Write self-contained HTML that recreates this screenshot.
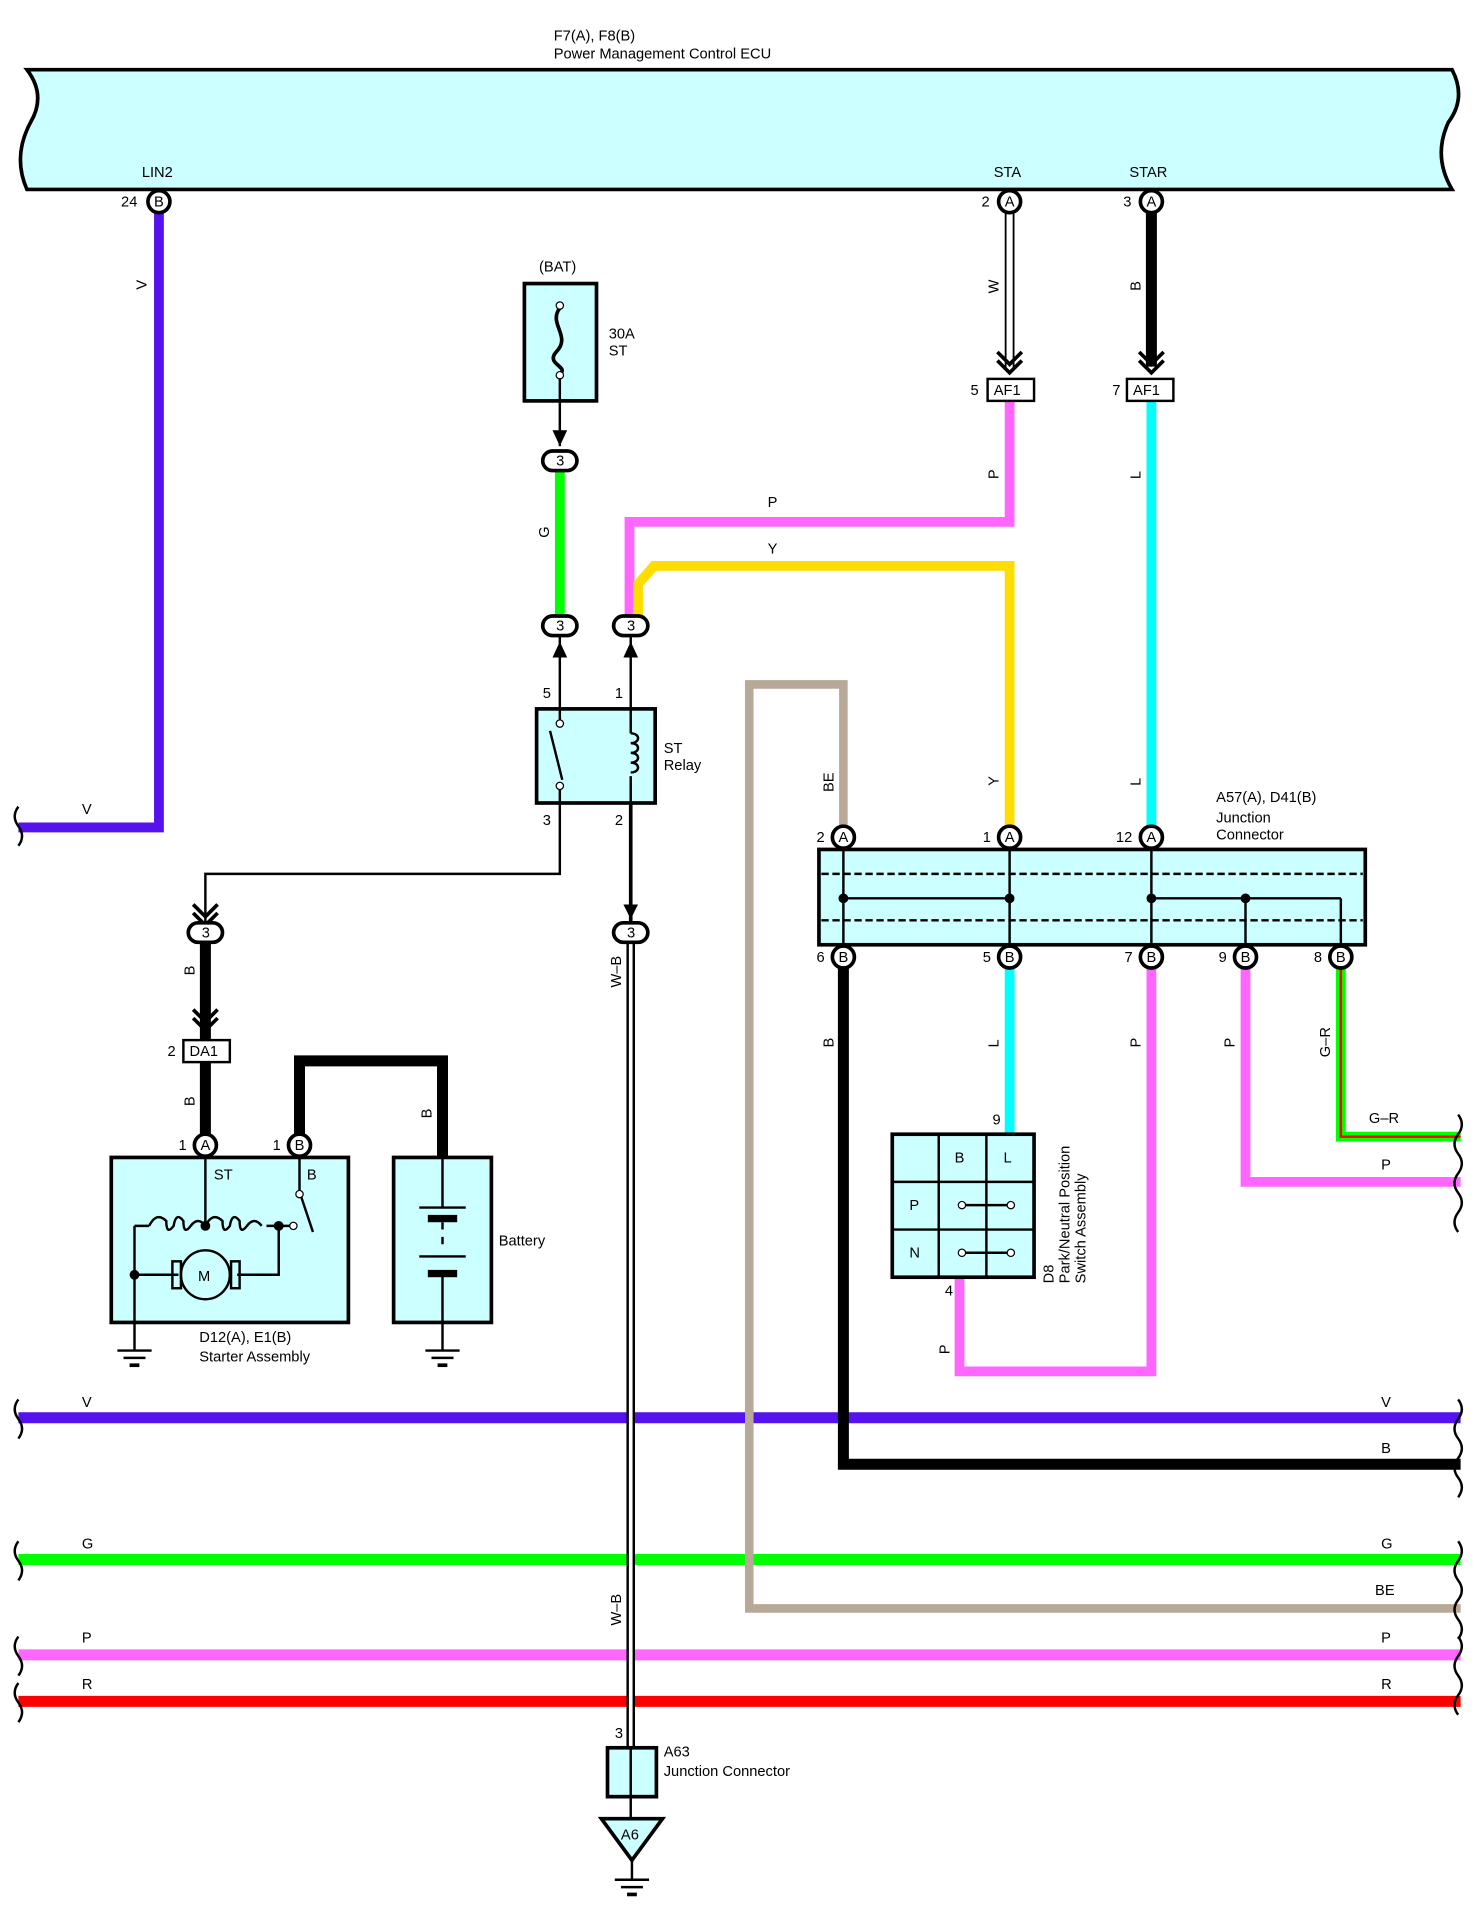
<!DOCTYPE html>
<html><head><meta charset="utf-8"><style>html,body{margin:0;padding:0;background:#fff}svg{display:block}text{font-family:"Liberation Sans",sans-serif;font-size:12px;fill:#000}</style></head>
<body>
<svg width="1479" height="1914" viewBox="0 0 1210 1566" xmlns="http://www.w3.org/2000/svg">
<defs>
<g id="pin"><circle r="9" fill="#fff" stroke="#000" stroke-width="3"/></g>
<g id="con"><rect x="-14" y="-8" width="28" height="16" rx="8" fill="#fff" stroke="#000" stroke-width="3"/></g>
<g id="gnd"><line x1="-14" y1="0" x2="14" y2="0" stroke="#000" stroke-width="2"/><line x1="-9" y1="6" x2="9" y2="6" stroke="#000" stroke-width="2"/><line x1="-4" y1="12" x2="4" y2="12" stroke="#000" stroke-width="3"/></g>
</defs>
<!-- ECU -->
<path d="M22 57 H1188 Q1200 80 1185 100 Q1172 128 1188 155 H22 Q10 128 25 100 Q38 78 22 57 Z" fill="#ccffff" stroke="#000" stroke-width="3"/>
<text x="453" y="33">F7(A), F8(B)</text><text x="453" y="48">Power Management Control ECU</text>
<text x="116" y="145">LIN2</text><text x="813" y="145">STA</text><text x="924" y="145">STAR</text>

<!-- bus lines -->
<g fill="none" stroke-linecap="butt">
<path d="M15 1160 H1195" stroke="#5511ee" stroke-width="9"/>
<path d="M690 790 V1198 H1195" stroke="#000" stroke-width="9"/>
<path d="M15 1276 H1195" stroke="#00ff00" stroke-width="9"/>
<path d="M690 680 V560 H613 V1316 H1195" stroke="#b8a898" stroke-width="7"/>
<path d="M15 1354 H1195" stroke="#ff66ff" stroke-width="9"/>
<path d="M15 1392 H1195" stroke="#ff0000" stroke-width="9"/>
<!-- LIN2 -->
<path d="M130 170 V677 H15" stroke="#5511ee" stroke-width="8"/>
<!-- STA white -->
<path d="M826 172 V300" stroke="#000" stroke-width="8"/><path d="M826 172 V300" stroke="#fff" stroke-width="5"/>
<path d="M942 172 V300" stroke="#000" stroke-width="9"/>
<path d="M826 328 V427 H515 V505" stroke="#ff66ff" stroke-width="8"/>
<path d="M942 328 V680" stroke="#00ffff" stroke-width="8"/>
<path d="M826 680 V463 H535 L522 478 V505" stroke="#ffdd00" stroke-width="8"/>
<path d="M458 385 V505" stroke="#00ff00" stroke-width="8"/>
<path d="M826 790 V928" stroke="#00ffff" stroke-width="8"/>
<path d="M942 790 V1122 H785 V1045" stroke="#ff66ff" stroke-width="8"/>
<path d="M1019 790 V967 H1195" stroke="#ff66ff" stroke-width="8"/>
<path d="M1097 790 V930 H1195" stroke="#00ff00" stroke-width="8"/>
<path d="M1097 790 V930 H1195" stroke="#ff0000" stroke-width="2"/>
<!-- relay wires -->
<path d="M458 328 V365 M458 520 V580 M516 520 V580" stroke="#000" stroke-width="2"/>
<path d="M458 657 V715 H168 V755" stroke="#000" stroke-width="2"/>
<path d="M516 657 V755" stroke="#000" stroke-width="3"/>
<path d="M168 770 V851 M168 869 V928" stroke="#000" stroke-width="9"/>
<path d="M245 928 V868 H362 V947" stroke="#000" stroke-width="9"/>
<path d="M516 770 V1430" stroke="#000" stroke-width="7"/><path d="M516 770 V1430" stroke="#fff" stroke-width="3"/>
</g>
<!-- arrowheads -->
<g fill="none" stroke="#000" stroke-width="3">
<path d="M816 288 L826 298 L836 288 M816 295 L826 305 L836 295"/>
<path d="M932 288 L942 298 L952 288 M932 295 L942 305 L952 295"/>
<path d="M158 740 L168 750 L178 740 M158 747 L168 757 L178 747"/>
<path d="M158 826 L168 836 L178 826 M158 833 L168 843 L178 833"/>
</g>
<g fill="#000"><path d="M452 352 L458 365 L464 352 Z"/><path d="M452 538 L458 525 L464 538 Z"/><path d="M510 538 L516 525 L522 538 Z"/><path d="M510 740 L516 752 L522 740Z"/></g>

<!-- pins -->
<g font-size="10">
<use href="#pin" x="130" y="165"/><text x="126" y="169" font-size="10">B</text><text x="99" y="169">24</text>
<use href="#pin" x="826" y="165"/><text x="822" y="169" font-size="10">A</text><text x="803" y="169">2</text>
<use href="#pin" x="942" y="165"/><text x="938" y="169" font-size="10">A</text><text x="919" y="169">3</text>
<use href="#pin" x="690" y="685"/><text x="686" y="689" font-size="10">A</text><text x="668" y="689">2</text>
<use href="#pin" x="826" y="685"/><text x="822" y="689" font-size="10">A</text><text x="804" y="689">1</text>
<use href="#pin" x="942" y="685"/><text x="938" y="689" font-size="10">A</text><text x="913" y="689">12</text>
<use href="#pin" x="690" y="783"/><text x="686" y="787" font-size="10">B</text><text x="668" y="787">6</text>
<use href="#pin" x="826" y="783"/><text x="822" y="787" font-size="10">B</text><text x="804" y="787">5</text>
<use href="#pin" x="942" y="783"/><text x="938" y="787" font-size="10">B</text><text x="920" y="787">7</text>
<use href="#pin" x="1019" y="783"/><text x="1015" y="787" font-size="10">B</text><text x="997" y="787">9</text>
<use href="#pin" x="1097" y="783"/><text x="1093" y="787" font-size="10">B</text><text x="1075" y="787">8</text>
<use href="#pin" x="168" y="937"/><text x="164" y="941" font-size="10">A</text><text x="146" y="941">1</text>
<use href="#pin" x="245" y="937"/><text x="241" y="941" font-size="10">B</text><text x="223" y="941">1</text>
</g>
<g font-size="10">
<use href="#con" x="458" y="377"/><text x="455" y="381">3</text>
<use href="#con" x="458" y="512"/><text x="455" y="516">3</text>
<use href="#con" x="516" y="512"/><text x="513" y="516">3</text>
<use href="#con" x="168" y="763"/><text x="165" y="767">3</text>
<use href="#con" x="516" y="763"/><text x="513" y="767">3</text>
</g>
<!-- AF1 / DA1 boxes -->
<rect x="808" y="310" width="38" height="18" fill="#fff" stroke="#000" stroke-width="2"/><text x="813" y="323">AF1</text><text x="794" y="323">5</text>
<rect x="922" y="310" width="38" height="18" fill="#fff" stroke="#000" stroke-width="2"/><text x="927" y="323">AF1</text><text x="910" y="323">7</text>
<rect x="150" y="851" width="38" height="18" fill="#fff" stroke="#000" stroke-width="2"/><text x="155" y="864">DA1</text><text x="137" y="864">2</text>

<!-- fuse -->
<rect x="429" y="232" width="59" height="96" fill="#ccffff" stroke="#000" stroke-width="3"/>
<path d="M458 252 C448 265 468 275 455 288 C446 298 466 300 458 306" fill="none" stroke="#000" stroke-width="3"/>
<circle cx="458" cy="250" r="3" fill="#fff" stroke="#000"/><circle cx="458" cy="307" r="3" fill="#fff" stroke="#000"/>
<line x1="458" y1="310" x2="458" y2="328" stroke="#000" stroke-width="2"/>
<text x="441" y="222">(BAT)</text><text x="498" y="277">30A</text><text x="498" y="291">ST</text>

<!-- relay -->
<rect x="439" y="580" width="97" height="77" fill="#ccffff" stroke="#000" stroke-width="3"/>
<path d="M458 580 V590 M458 645 V657 M450 598 L460 638 M516 580 V600 M516 635 V657" stroke="#000" stroke-width="2" fill="none"/>
<circle cx="458" cy="592" r="3" fill="#fff" stroke="#000"/><circle cx="458" cy="643" r="3" fill="#fff" stroke="#000"/>
<path d="M516 600 c8 0 8 8 0 8 c8 0 8 8 0 8 c8 0 8 8 0 8 c8 0 8 8 0 8" fill="none" stroke="#000" stroke-width="2"/>
<text x="444" y="571">5</text><text x="503" y="571">1</text><text x="444" y="675">3</text><text x="503" y="675">2</text>
<text x="543" y="616">ST</text><text x="543" y="630">Relay</text>

<!-- starter -->
<rect x="91" y="947" width="194" height="135" fill="#ccffff" stroke="#000" stroke-width="3"/>
<g stroke="#000" stroke-width="2" fill="none">
<path d="M168 947 V1003 M245 947 V975 M110 1003 H122 M218 1003 H240 M110 1003 V1105 M110 1043 H146 M194 1043 H228 V1003 M246 978 L256 1008"/>
<path d="M122 1003 q6 -12 14 -4 q0 12 6 4 q2 -12 8 -4 q0 12 6 4 q6 -8 12 0 M168 1003 q6 -12 14 -4 q0 12 6 4 q2 -12 8 -4 q0 12 6 4 q6 -8 12 0"/>
<circle cx="168" cy="1043" r="20" fill="#ccffff"/>
<rect x="141" y="1032" width="7" height="22"/><rect x="189" y="1032" width="7" height="22"/>
</g>
<circle cx="168" cy="1003" r="4"/><circle cx="228" cy="1003" r="4"/><circle cx="110" cy="1043" r="4"/>
<circle cx="245" cy="977" r="3" fill="#fff" stroke="#000"/><circle cx="240" cy="1003" r="3" fill="#fff" stroke="#000"/>
<text x="162" y="1048">M</text><text x="175" y="965">ST</text><text x="251" y="965">B</text>
<use href="#gnd" x="110" y="1105"/>
<text x="163" y="1098" font-size="13">D12(A), E1(B)</text><text x="163" y="1114">Starter Assembly</text>

<!-- battery -->
<rect x="322" y="947" width="80" height="135" fill="#ccffff" stroke="#000" stroke-width="3"/>
<g stroke="#000" stroke-width="2"><path d="M362 947 V988 M343 988 H381 M343 1028 H381 M362 1043 V1105 M362 1000 V1006 M362 1012 V1018"/></g>
<rect x="350" y="994" width="24" height="6"/><rect x="350" y="1039" width="24" height="6"/>
<use href="#gnd" x="362" y="1105"/><text x="408" y="1019">Battery</text>

<!-- junction connector -->
<rect x="670" y="695" width="447" height="78" fill="#ccffff" stroke="#000" stroke-width="3"/>
<g stroke="#000" stroke-width="2" fill="none">
<path d="M672 715 H1115 M672 753 H1115" stroke-dasharray="6 3"/>
<path d="M690 695 V773 M826 695 V773 M942 695 V773 M1019 735 V773 M1097 735 V773 M690 735 H826 M942 735 H1097"/>
</g>
<circle cx="690" cy="735" r="4"/><circle cx="826" cy="735" r="4"/><circle cx="942" cy="735" r="4"/><circle cx="1019" cy="735" r="4"/>
<text x="995" y="656" font-size="13">A57(A), D41(B)</text><text x="995" y="673">Junction</text><text x="995" y="687">Connector</text>

<!-- switch D8 -->
<rect x="730" y="928" width="116" height="117" fill="#ccffff" stroke="#000" stroke-width="3"/>
<path d="M730 967 H846 M730 1006 H846 M768 928 V1045 M807 928 V1045" stroke="#000" stroke-width="2"/>
<text x="781" y="951">B</text><text x="821" y="951">L</text><text x="744" y="990">P</text><text x="744" y="1029">N</text>
<path d="M787 986 H827 M787 1025 H827" stroke="#000" stroke-width="2"/>
<g fill="#fff" stroke="#000"><circle cx="787" cy="986" r="3"/><circle cx="827" cy="986" r="3"/><circle cx="787" cy="1025" r="3"/><circle cx="827" cy="1025" r="3"/></g>
<text x="812" y="920">9</text><text x="773" y="1060">4</text>
<g transform="translate(862,1050) rotate(-90)"><text x="0" y="0" font-size="13">D8</text><text x="0" y="13">Park/Neutral Position</text><text x="0" y="26">Switch Assembly</text></g>

<!-- A63 -->
<rect x="497" y="1430" width="40" height="40" fill="#ccffff" stroke="#000" stroke-width="3"/>
<line x1="516" y1="1430" x2="516" y2="1488" stroke="#000" stroke-width="2"/>
<path d="M492 1488 H542 L517 1522 Z" fill="#ccffff" stroke="#000" stroke-width="3"/>
<text x="508" y="1505" font-size="11">A6</text>
<line x1="517" y1="1522" x2="517" y2="1538" stroke="#000" stroke-width="2"/><use href="#gnd" x="517" y="1538"/>
<text x="503" y="1422">3</text><text x="543" y="1437" font-size="13">A63</text><text x="543" y="1453">Junction Connector</text>

<!-- wire labels -->
<g font-size="12">
<text x="67" y="666">V</text><text x="628" y="415">P</text><text x="628" y="453">Y</text>
<text x="67" y="1151">V</text><text x="1130" y="1151">V</text><text x="1130" y="1189">B</text>
<text x="67" y="1267">G</text><text x="1130" y="1267">G</text><text x="1125" y="1305">BE</text>
<text x="67" y="1344">P</text><text x="1130" y="1344">P</text><text x="67" y="1382">R</text><text x="1130" y="1382">R</text>
<text x="1120" y="919">G–R</text><text x="1130" y="957">P</text>
</g>
<g font-size="12">
<text transform="translate(120,237) rotate(-90)">V</text>
<text transform="translate(817,240) rotate(-90)">W</text>
<text transform="translate(933,238) rotate(-90)">B</text>
<text transform="translate(817,392) rotate(-90)">P</text>
<text transform="translate(933,392) rotate(-90)">L</text>
<text transform="translate(449,440) rotate(-90)">G</text>
<text transform="translate(682,648) rotate(-90)">BE</text>
<text transform="translate(817,643) rotate(-90)">Y</text>
<text transform="translate(933,643) rotate(-90)">L</text>
<text transform="translate(159,798) rotate(-90)">B</text>
<text transform="translate(159,905) rotate(-90)">B</text>
<text transform="translate(353,915) rotate(-90)">B</text>
<text transform="translate(508,808) rotate(-90)">W–B</text>
<text transform="translate(508,1330) rotate(-90)">W–B</text>
<text transform="translate(682,857) rotate(-90)">B</text>
<text transform="translate(817,857) rotate(-90)">L</text>
<text transform="translate(933,857) rotate(-90)">P</text>
<text transform="translate(1010,857) rotate(-90)">P</text>
<text transform="translate(1088,865) rotate(-90)">G–R</text>
<text transform="translate(777,1108) rotate(-90)">P</text>
</g>
<!-- wavy ends -->
<g fill="none" stroke="#000" stroke-width="2">
<path d="M15 660 q-6 8 0 16 q6 8 0 16"/>
<path d="M15 1145 q-6 8 0 16 q6 8 0 16"/><path d="M15 1261 q-6 8 0 16 q6 8 0 16"/>
<path d="M15 1339 q-6 8 0 16 q6 8 0 16"/><path d="M15 1377 q-6 8 0 16 q6 8 0 16"/>
<path d="M1193 912 q6 8 0 16 q-6 8 0 16 q6 8 0 16 q-6 8 0 16 q6 8 0 16 q-6 8 0 16"/>
<path d="M1193 1145 q6 8 0 16 q-6 8 0 16 q6 8 0 16 q-6 8 0 16 q6 8 0 16"/>
<path d="M1193 1261 q6 8 0 16 q-6 8 0 16 q6 8 0 16 q-6 8 0 16 q6 8 0 16"/>
<path d="M1193 1339 q6 8 0 16 q-6 8 0 16 q6 8 0 16 q-6 8 0 16"/>
</g>
</svg>
</body></html>
